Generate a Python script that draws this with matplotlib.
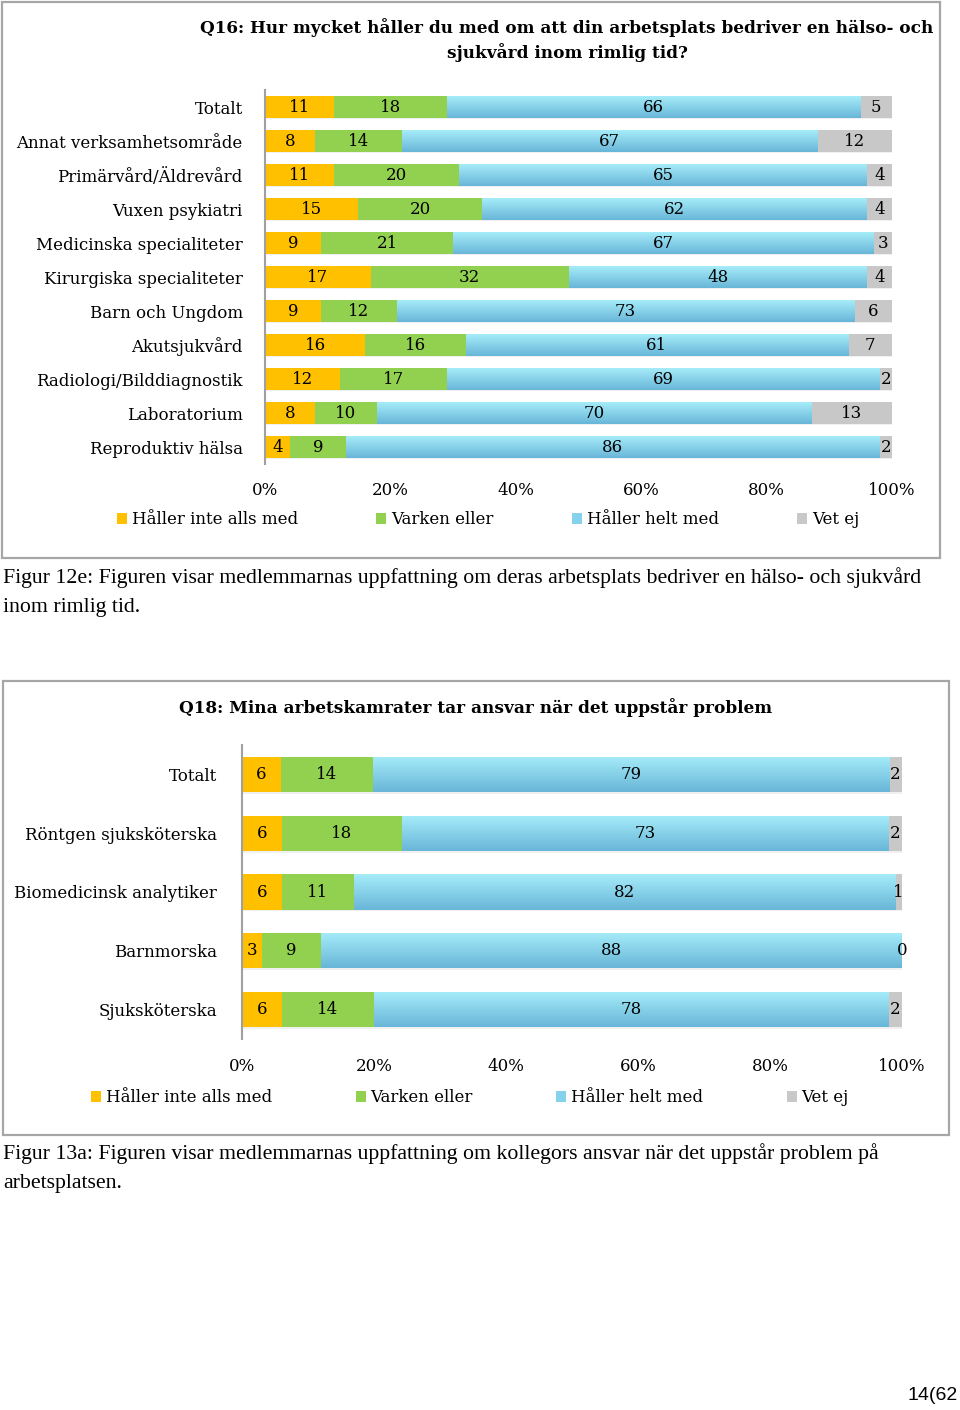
import numpy as np
import matplotlib
matplotlib.use("Agg")
import matplotlib.pyplot as plt
from matplotlib.patches import Rectangle, Patch
from matplotlib.ticker import FixedLocator

# ---------------- data ----------------
series_names = ["Håller inte alls med", "Varken eller", "Håller helt med", "Vet ej"]

q16_title = "Q16: Hur mycket håller du med om att din arbetsplats bedriver en hälso- och\nsjukvård inom rimlig tid?"
q16_categories = ["Totalt", "Annat verksamhetsområde", "Primärvård/Äldrevård", "Vuxen psykiatri",
                  "Medicinska specialiteter", "Kirurgiska specialiteter", "Barn och Ungdom",
                  "Akutsjukvård", "Radiologi/Bilddiagnostik", "Laboratorium", "Reproduktiv hälsa"]
q16_inte = [11, 8, 11, 15, 9, 17, 9, 16, 12, 8, 4]
q16_varken = [18, 14, 20, 20, 21, 32, 12, 16, 17, 10, 9]
q16_helt = [66, 67, 65, 62, 67, 48, 73, 61, 69, 70, 86]
q16_vetej = [5, 12, 4, 4, 3, 4, 6, 7, 2, 13, 2]

q18_title = "Q18: Mina arbetskamrater tar ansvar när det uppstår problem"
q18_categories = ["Totalt", "Röntgen sjuksköterska", "Biomedicinsk analytiker", "Barnmorska", "Sjuksköterska"]
q18_inte = [6, 6, 6, 3, 6]
q18_varken = [14, 18, 11, 9, 14]
q18_helt = [79, 73, 82, 88, 78]
q18_vetej = [2, 2, 1, 0, 2]

tick_labels = ["0%", "20%", "40%", "60%", "80%", "100%"]

caption1 = ("Figur 12e: Figuren visar medlemmarnas uppfattning om deras arbetsplats bedriver en hälso- och sjukvård\n"
            "inom rimlig tid.")
caption2 = ("Figur 13a: Figuren visar medlemmarnas uppfattning om kollegors ansvar när det uppstår problem på\n"
            "arbetsplatsen.")
page_label = "14(62"

# ---------------- style ----------------
YELLOW = "#FFC000"
GREEN = "#92D050"
BLUE = "#86D2EC"
GRAY = "#C8C8C8"
BLUE_TOP = np.array([0xA6, 0xEC, 0xF9]) / 255
BLUE_BOT = np.array([0x68, 0xB6, 0xD8]) / 255
SERIF = ["DejaVu Serif"]
FS = 12.0
W, H = 960, 1410
fig = plt.figure(figsize=(W / 100, H / 100), dpi=100)


def px_axes(x0, y0, x1, y1):
    return fig.add_axes([x0 / W, 1 - y1 / H, (x1 - x0) / W, (y1 - y0) / H])


def box(x0, y0, x1, y1):
    fig.patches.append(Rectangle((x0 / W, 1 - y1 / H), (x1 - x0) / W, (y1 - y0) / H,
                                 transform=fig.transFigure, fill=False,
                                 edgecolor="#A6A6A6", linewidth=1.6))


def draw_chart(ax, cats, inte, varken, helt, vetej, bar_h, ypad, xpad, shadow_dy):
    n = len(cats)
    y = np.arange(n)[::-1]
    raw = np.array([inte, varken, helt, vetej], dtype=float)
    tot = raw.sum(axis=0)
    pct = raw / tot * 100
    colors = [YELLOW, GREEN, BLUE, GRAY]
    left = np.zeros(n)
    # soft shadows
    ax.barh(y - shadow_dy, pct.sum(axis=0), height=bar_h, left=0.2, color="#000000", alpha=0.06,
            zorder=1, linewidth=0)
    for i in range(4):
        bars = ax.barh(y, pct[i], left=left, height=bar_h, color=colors[i], linewidth=0, zorder=2)
        if i == 2:
            grad = np.linspace(0, 1, 64)[:, None, None]
            img = BLUE_TOP * (1 - grad) + BLUE_BOT * grad
            for b in bars:
                x0, yb = b.get_x(), b.get_y()
                im = ax.imshow(img, extent=(x0, x0 + b.get_width(), yb, yb + b.get_height()),
                               origin="upper", aspect="auto", zorder=3, interpolation="bilinear")
                im.set_clip_path(b)
        ax.bar_label(bars, labels=[str(int(v)) for v in raw[i]], label_type="center",
                     fontsize=FS, family=SERIF, color="black", zorder=5)
        left += pct[i]
    ax.set_xlim(0, 100)
    ax.set_ylim(-0.5, n - 0.5)
    ax.set_yticks(y)
    ax.set_yticklabels(cats, fontsize=FS, family=SERIF)
    ax.xaxis.set_major_locator(FixedLocator([0, 20, 40, 60, 80, 100]))
    ax.set_xticklabels(tick_labels, fontsize=FS, family=SERIF)
    ax.tick_params(axis="both", length=0)
    ax.tick_params(axis="y", pad=ypad)
    ax.tick_params(axis="x", pad=xpad)
    for s in ["top", "right", "bottom"]:
        ax.spines[s].set_visible(False)
    ax.spines["left"].set_color("#A0A0A0")
    ax.spines["left"].set_linewidth(1.5)
    ax.set_facecolor("none")


def legend(cx, cy, spacing):
    handles = [Patch(facecolor=c, edgecolor="none") for c in [YELLOW, GREEN, BLUE, GRAY]]
    fig.legend(handles, series_names, loc="center", bbox_to_anchor=(cx / W, 1 - cy / H),
               ncol=4, frameon=False, handlelength=0.6, handleheight=0.6, handletextpad=0.3,
               columnspacing=spacing, prop={"family": SERIF, "size": FS})


# ---------------- chart 1 ----------------
box(2, 2, 940, 558)
fig.text(567 / W, 1 - 40 / H, q16_title, ha="center", va="center", fontsize=12.2,
         family=SERIF, fontweight="bold", linespacing=1.45)
ax1 = px_axes(265, 90, 892, 464)
draw_chart(ax1, q16_categories, q16_inte, q16_varken, q16_helt, q16_vetej, 0.62, 16, 13, 0.05)
legend(488, 520, 4.7)

fig.text(3 / W, 1 - 592 / H, caption1, ha="left", va="center", fontsize=15.7,
         family=["Liberation Serif"], linespacing=1.65)

# ---------------- chart 2 ----------------
box(3, 681, 949, 1135)
fig.text(476 / W, 1 - 708 / H, q18_title, ha="center", va="center", fontsize=12.2,
         family=SERIF, fontweight="bold")
ax2 = px_axes(242, 745, 902, 1039)
draw_chart(ax2, q18_categories, q18_inte, q18_varken, q18_helt, q18_vetej, 0.6, 18, 14, 0.03)
legend(470, 1098, 5.0)

fig.text(3 / W, 1 - 1168 / H, caption2, ha="left", va="center", fontsize=15.7,
         family=["Liberation Serif"], linespacing=1.65)

fig.text(958 / W, 1 - 1395 / H, page_label, ha="right", va="center", fontsize=14,
         family=["Liberation Sans"])

fig.savefig("out.png", dpi=100)
